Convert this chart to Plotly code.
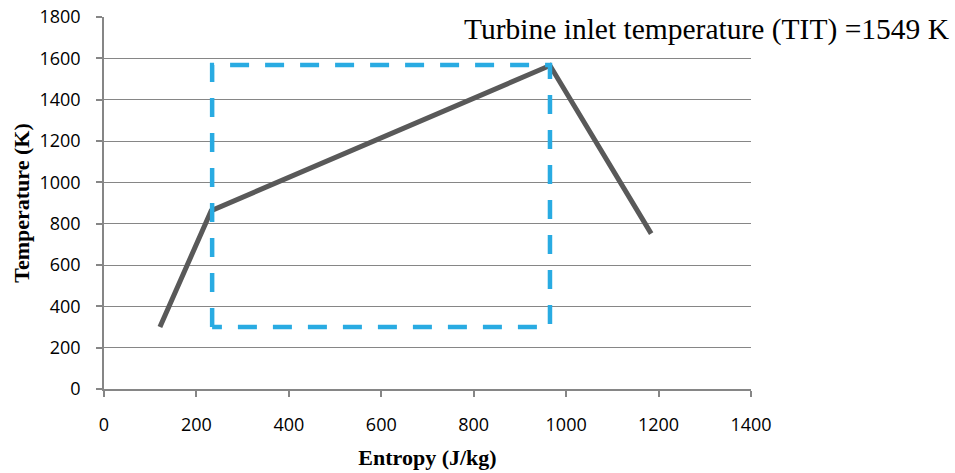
import plotly.graph_objects as go

# Cycle T-s path (gray solid)
cycle_s = [121, 232, 965, 1184]
cycle_T = [300, 863, 1565, 752]

# Ideal rectangle (blue dashed)
rect_s = [234, 234, 965, 965, 234]
rect_T = [300, 1568, 1568, 300, 300]

x_ticks = [0, 200, 400, 600, 800, 1000, 1200, 1400]
y_ticks = [0, 200, 400, 600, 800, 1000, 1200, 1400, 1600, 1800]

annotation_text = "Turbine inlet temperature (TIT) =1549 K"

fig = go.Figure()
fig.add_trace(go.Scatter(x=cycle_s, y=cycle_T, mode="lines",
                         line=dict(color="#595959", width=5), showlegend=False))
fig.add_trace(go.Scatter(x=rect_s, y=rect_T, mode="lines",
                         line=dict(color="#29ABE2", width=4.5, dash="19px,16px"),
                         showlegend=False))

axis_gray = "#868686"
tickfont = dict(family="Open Sans", size=18, color="#000000")
titlefont = dict(family="Liberation Serif", size=22, color="#000000", weight="bold")

fig.update_xaxes(range=[0, 1400], tickvals=x_ticks, ticktext=[str(v) for v in x_ticks],
                 showgrid=False, zeroline=False, showline=True, linecolor=axis_gray,
                 linewidth=1.5, ticks="outside", ticklen=6, tickcolor=axis_gray,
                 tickwidth=1.5, tickfont=tickfont, ticklabelstandoff=13,
                 automargin=False,
                 title=dict(text="<b>Entropy (J/kg)</b>", font=titlefont, standoff=14))
fig.update_yaxes(range=[0, 1800], tickvals=y_ticks, ticktext=[str(v) for v in y_ticks],
                 showgrid=True, gridcolor=axis_gray, gridwidth=1, zeroline=False,
                 showline=True, linecolor=axis_gray, linewidth=1.5,
                 ticks="outside", ticklen=6, tickcolor=axis_gray, tickwidth=1.5,
                 tickfont=tickfont, ticklabelstandoff=12, automargin=False,
                 title=dict(text="<b>Temperature (K)</b>", font=titlefont, standoff=4))

fig.add_shape(type="rect", xref="paper", yref="paper", x0=0.513, x1=1.0,
              y0=0.96, y1=1.03, fillcolor="white", line=dict(width=0), layer="above")

fig.add_annotation(text=annotation_text, xref="paper", yref="paper",
                   x=0.5536, y=0.967, xanchor="left", yanchor="middle",
                   showarrow=False,
                   font=dict(family="Liberation Serif", size=29.5, color="#000000"))

fig.update_layout(width=955, height=473, autosize=False,
                  margin=dict(l=104, r=204, t=17, b=84, autoexpand=False),
                  paper_bgcolor="white", plot_bgcolor="white")

fig.write_html("out.html", config={"displayModeBar": False},
               post_script="document.body.style.margin='0';document.body.style.overflow='hidden';")
